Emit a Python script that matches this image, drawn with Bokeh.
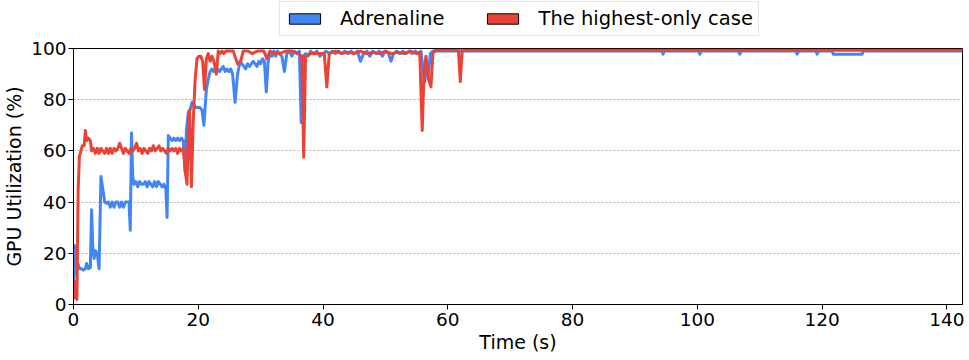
from bokeh.plotting import figure
from bokeh.layouts import column
from bokeh.models import Legend, LegendItem, Range1d, ColumnDataSource, FixedTicker
from bokeh.embed import file_html
from bokeh.resources import INLINE

# ---- data ----
series_names = ["Adrenaline", "The highest-only case"]

adrenaline_t = [0, 0.2, 0.4, 0.7, 1.0, 1.3, 1.6, 1.9, 2.1, 2.4, 2.7, 2.9, 3.1, 3.3, 3.5, 3.8, 4.1, 4.4, 4.7,
                5.0, 5.3, 5.6, 5.9, 6.2, 6.5, 6.8, 7.1, 7.4, 7.7, 8.0, 8.3, 8.6, 8.9, 9.1, 9.3, 9.5, 9.7,
                10.0, 10.3, 10.6, 10.9, 11.2, 11.5, 11.8, 12.1, 12.4, 12.7, 13.0, 13.3, 13.6, 13.9, 14.2,
                14.5, 14.8, 15.0, 15.2, 15.5, 15.8, 16.1, 16.4, 16.7, 17.0, 17.3, 17.6, 17.9, 18.1, 18.4,
                18.7, 19.0, 19.3, 19.6, 19.9, 20.2, 20.6, 20.9, 21.3, 21.6, 21.9, 22.2, 22.5, 22.8, 23.1,
                23.4, 23.7, 24.0, 24.3, 24.6, 24.9, 25.2, 25.5, 25.9, 26.3, 26.7, 27.0, 27.3, 27.6, 27.9,
                28.2, 28.5, 28.8, 29.1, 29.4, 29.7, 30.0, 30.3, 30.6, 30.9, 31.2, 31.5, 31.8, 32.1, 32.4,
                32.7, 33.0, 33.4, 33.8, 34.2, 34.6, 35.0, 35.4, 35.8, 36.2, 36.5, 36.8, 37.2, 37.6, 38.0,
                38.5, 39.0, 39.5, 40.0, 40.5, 41.0, 41.5, 42.0, 42.5, 43.0, 43.5, 44.0, 44.5, 45.0, 45.5,
                46.0, 46.5, 47.0, 47.5, 48.0, 48.5, 49.0, 49.5, 50.0, 50.5, 50.9, 51.3, 51.8, 52.3, 52.8,
                53.3, 53.8, 54.3, 54.8, 55.3, 55.7, 56.0, 56.3, 56.6, 56.9, 57.2, 57.6, 58.0, 63.0,
                94.3, 94.5, 94.7, 100.2, 100.4, 100.6, 106.6, 106.8, 107.0, 115.8, 116.0, 116.2,
                119.0, 119.2, 119.4, 121.6, 121.8, 126.4, 126.6, 142.5]
adrenaline_v = [2, 23, 12, 16, 14, 14, 13.5, 14, 16, 14, 14.5, 37, 22, 18, 21, 20, 14, 50, 45,
                40, 39.5, 40, 38, 40, 38, 40, 40, 38, 40, 38, 40, 40, 40, 29, 67, 50, 47,
                48, 46, 48, 47, 47, 48, 46, 48, 47, 46, 48, 46, 48, 47, 46,
                47, 45, 34, 66, 65, 64, 65, 64, 65, 64, 65, 64, 52, 68, 75,
                76, 79, 78, 77, 77, 77, 76, 70, 84, 88, 91, 92, 91, 92, 92,
                91, 92, 93, 91, 92, 91, 92, 90, 79, 90, 95, 94, 93, 92, 94,
                93, 94, 95, 94, 93, 95, 94, 96, 95, 83, 95, 98, 97, 99, 97,
                99, 98, 97, 91, 98, 99, 97, 99, 98, 99, 71, 97, 98, 97, 99,
                98, 99, 97, 98, 99, 98, 99, 98, 99, 98, 99, 98, 99, 98, 99,
                95, 98, 99, 97, 99, 98, 99, 97, 99, 98, 95, 98, 99, 98, 99,
                98, 99, 98, 99, 98, 99, 92, 87, 93, 90, 98, 99, 99, 99,
                99, 97.8, 99, 99, 97.8, 99, 99, 97.8, 99, 99, 97.8, 99,
                99, 97.8, 99, 99, 97.8, 97.8, 99, 99]

highest_t = [0, 0.2, 0.35, 0.55, 0.75, 0.95, 1.2, 1.4, 1.7, 1.9, 2.1, 2.4, 2.7, 2.9, 3.2, 3.5, 3.8,
             4.1, 4.4, 4.7, 5.0, 5.3, 5.6, 5.9, 6.2, 6.5, 6.8, 7.1, 7.4, 7.7, 8.0, 8.3, 8.6, 8.9, 9.2,
             9.5, 9.8, 10.1, 10.4, 10.7, 11.0, 11.3, 11.6, 11.9, 12.2, 12.5, 12.8, 13.1, 13.4, 13.7,
             14.0, 14.3, 14.6, 14.9, 15.2, 15.5, 15.8, 16.1, 16.4, 16.7, 17.0, 17.3, 17.6, 17.9, 18.2,
             18.45, 18.6, 18.9, 19.2, 19.5, 19.8, 20.1, 20.4, 20.7, 21.0, 21.3, 21.6, 21.9, 22.2, 22.5,
             22.9, 23.2, 23.5, 23.8, 24.1, 24.4, 25.0, 25.6, 26.3, 26.8, 27.2, 28.0, 28.6, 29.5, 30.5,
             31.0, 31.5, 32.2, 33.0, 34.0, 35.0, 36.0, 36.6, 36.9, 37.2, 38.0, 39.0, 40.2, 40.6, 41.0,
             42.0, 43.0, 44.0, 45.0, 46.0, 47.0, 48.0, 49.0, 50.0, 51.0, 52.0, 53.0, 54.0, 55.0, 55.5,
             55.9, 56.2, 56.5, 56.9, 57.3, 57.6, 58.0, 61.7, 62.0, 62.3, 142.5]
highest_v = [2, 9, 3, 2, 45, 58, 60, 62, 62, 68, 64, 65, 64, 60, 61, 59, 61,
             59, 61, 60, 59, 61, 59, 61, 59, 61, 60, 61, 63, 61, 59, 61, 60, 59, 61,
             60, 61, 63, 60, 61, 59, 61, 60, 59, 61, 60, 62, 60, 61, 62,
             60, 61, 60, 59, 61, 60, 61, 60, 61, 59, 61, 60, 61, 52, 47,
             72, 76, 46, 72, 88, 96, 97, 97, 95, 84, 96, 98, 95, 97, 95,
             90, 99, 98, 99, 98, 99, 99, 99, 94, 95, 99, 99, 98, 99, 99,
             96, 99, 98, 98, 99, 99, 98, 97, 57.5, 97, 98, 98, 98, 85, 98,
             99, 98, 98.5, 98, 99, 98, 98.5, 98, 99, 98, 98.5, 98, 99, 98, 98.5,
             68, 92, 97, 88, 85, 98, 99.3, 99.3, 87, 99.3, 99.3]

x_ticks = [0, 20, 40, 60, 80, 100, 120, 140]
y_ticks = [0, 20, 40, 60, 80, 100]

blue = "#4285F4"
red = "#EA4335"
FONT = "DejaVu Sans"

# ---------- main plot ----------
p = figure(width=969, height=323, output_backend="svg", toolbar_location=None,
           x_range=Range1d(0, 142.5), y_range=Range1d(0, 100),
           min_border_left=73, min_border_right=7, min_border_top=11, min_border_bottom=56)

p.line(adrenaline_t, adrenaline_v, line_color=blue, line_width=3, line_join="round")
p.line(highest_t, highest_v, line_color=red, line_width=3, line_join="round")

p.xaxis.ticker = FixedTicker(ticks=x_ticks)
p.yaxis.ticker = FixedTicker(ticks=y_ticks)
p.xaxis.axis_label = "Time (s)"
p.yaxis.axis_label = "GPU Utilization (%)"
for ax in (p.xaxis, p.yaxis):
    ax.axis_label_text_font = FONT
    ax.axis_label_text_font_size = "19px"
    ax.axis_label_text_font_style = "normal"
    ax.major_label_text_font = FONT
    ax.major_label_text_font_size = "18.5px"
    ax.major_label_text_color = "black"
    ax.axis_label_text_color = "black"
    ax.axis_line_color = "black"
    ax.major_tick_line_color = "black"
    ax.major_tick_out = 5
    ax.major_tick_in = 0
    ax.minor_tick_line_color = None
p.xaxis.axis_label_standoff = 2
p.yaxis.axis_label_standoff = 3
p.xaxis.major_label_standoff = 3
p.yaxis.major_label_standoff = 2

p.xgrid.grid_line_color = None
p.ygrid.grid_line_color = "#999999"
p.ygrid.grid_line_dash = "2 2"
p.ygrid.grid_line_width = 0.8
p.outline_line_color = "black"
p.outline_line_width = 1
p.background_fill_color = "white"
p.border_fill_color = "white"

# ---------- legend strip above the plot ----------
lg = figure(width=969, height=37, output_backend="svg", toolbar_location=None,
            x_range=Range1d(0, 1), y_range=Range1d(0, 1),
            x_axis_type=None, y_axis_type=None,
            min_border_left=0, min_border_right=0, min_border_top=0, min_border_bottom=0)
lg.xgrid.grid_line_color = None
lg.ygrid.grid_line_color = None
lg.outline_line_color = None
lg.border_fill_color = "white"

proxy = ColumnDataSource(dict(l=[-20], r=[-19], b=[-20], t=[-19]))
q_blue = lg.quad(left="l", right="r", bottom="b", top="t", source=proxy,
                 fill_color=blue, line_color="black", line_width=1)
q_red = lg.quad(left="l", right="r", bottom="b", top="t", source=proxy,
                fill_color=red, line_color="black", line_width=1)

legend = Legend(items=[LegendItem(label=series_names[0], renderers=[q_blue]),
                       LegendItem(label=series_names[1], renderers=[q_red])],
                orientation="horizontal", location=(206, 1),
                glyph_width=39, glyph_height=13, label_standoff=16, spacing=39,
                padding=5, margin=0,
                label_text_font=FONT, label_text_font_size="19.5px",
                label_text_color="black",
                border_line_color="#cccccc", border_line_width=1,
                background_fill_alpha=0.8)
lg.add_layout(legend)

layout = column(lg, p, spacing=0)
open("out.html", "w").write(file_html(layout, INLINE))
